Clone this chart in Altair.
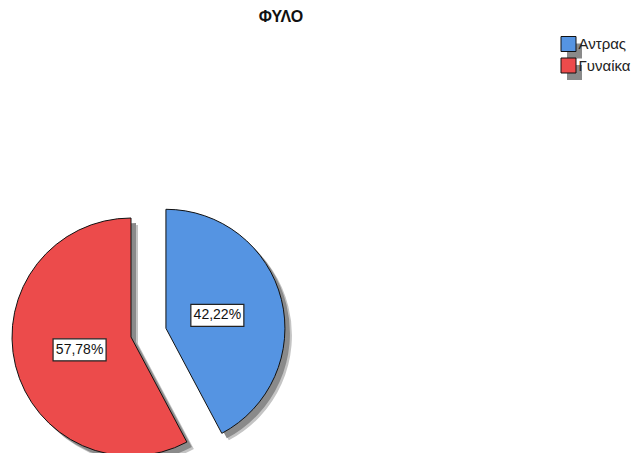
import altair as alt
import pandas as pd

# ---- data ----
title_text = "ΦΥΛΟ"
genders = ["Αντρας", "Γυναίκα"]
percents = [42.22, 57.78]
pct_labels = ["42,22%", "57,78%"]
explode = [1, 0]
order = [0, 1]
colors = ["#5594e2", "#ec4b4b"]

# ---- layout (chart coordinates; page margin 8px) ----
W, H = 625, 445
CX, CY = 123, 329
R = 119
EXP = 36
LR = 53
FONT = "Liberation Sans"

df = pd.DataFrame({
    "gender": genders, "pct": percents, "label": pct_labels,
    "explode": explode, "order": order,
})

color = alt.Color("gender:N", scale=alt.Scale(domain=genders, range=colors), legend=None)

base = (
    alt.Chart(df)
    .transform_window(cum="sum(pct)", sort=[alt.SortField("order")], frame=[None, 0])
    .transform_joinaggregate(total="sum(pct)")
    .transform_calculate(t0="2*PI*(datum.cum - datum.pct)/datum.total")
    .transform_calculate(t1="2*PI*datum.cum/datum.total")
    .transform_calculate(tm="2*PI*(datum.cum - datum.pct/2)/datum.total")
    .transform_calculate(cx=f"{CX} + datum.explode*{EXP}*sin(datum.tm)")
    .transform_calculate(cy=f"{CY} - datum.explode*{EXP}*cos(datum.tm)")
    .transform_calculate(lx=f"datum.cx + {LR}*sin(datum.tm)")
    .transform_calculate(ly=f"datum.cy - {LR}*cos(datum.tm)")
    .transform_calculate(legy="36 + datum.order*21.5")
)

theta = alt.Theta("t0:Q", scale=None)

shadow2 = base.transform_calculate(sxx="datum.cx + 7", syy="datum.cy + 7").mark_arc(
    outerRadius=R, color="#c4c4c4"
).encode(theta=theta, theta2="t1:Q",
         x=alt.X("sxx:Q", scale=None, axis=None), y=alt.Y("syy:Q", scale=None, axis=None))

shadow = base.transform_calculate(sxx="datum.cx + 5", syy="datum.cy + 5").mark_arc(
    outerRadius=R, color="#8a8a8a"
).encode(theta=theta, theta2="t1:Q",
         x=alt.X("sxx:Q", scale=None, axis=None), y=alt.Y("syy:Q", scale=None, axis=None))

arcs = base.mark_arc(outerRadius=R, stroke="#111111", strokeWidth=1).encode(
    theta=theta, theta2="t1:Q",
    x=alt.X("cx:Q", scale=None, axis=None), y=alt.Y("cy:Q", scale=None, axis=None),
    color=color,
)

BW, BH = 53, 22
box_path = f"M-1,-{BH/BW:.4f}H1V{BH/BW:.4f}H-1Z"
boxes = base.mark_point(
    shape=box_path, size=BW * BW, filled=True, fill="white", stroke="#222222",
    strokeWidth=1.2, opacity=1,
).encode(x=alt.X("lx:Q", scale=None, axis=None), y=alt.Y("ly:Q", scale=None, axis=None))

texts = base.mark_text(font=FONT, fontSize=14, color="#111111").encode(
    x=alt.X("lx:Q", scale=None, axis=None), y=alt.Y("ly:Q", scale=None, axis=None),
    text="label:N",
)

# legend
LX = 560.5
leg_shadow = base.transform_calculate(lsy="datum.legy + 7").mark_point(
    shape="square", size=225, filled=True, color="#8a8a8a", opacity=1
).encode(x=alt.value(LX + 6), y=alt.Y("lsy:Q", scale=None, axis=None))

leg_sq = base.mark_point(
    shape="square", size=225, filled=True, stroke="#111111", strokeWidth=1, opacity=1
).encode(x=alt.value(LX), y=alt.Y("legy:Q", scale=None, axis=None), fill=color)

leg_txt = base.mark_text(font=FONT, fontSize=15, align="left", baseline="middle",
                         color="#222222").encode(
    x=alt.value(LX + 10), y=alt.Y("legy:Q", scale=None, axis=None), text="gender:N")

title = alt.Chart(pd.DataFrame({"t": [title_text]})).mark_text(
    font=FONT, fontSize=16, fontWeight="bold", color="#111111", baseline="middle"
).encode(text="t:N", x=alt.value(273), y=alt.value(9))

chart = alt.layer(
    shadow2, shadow, arcs, boxes, texts, leg_shadow, leg_sq, leg_txt, title
).properties(
    width=W, height=H, autosize=alt.AutoSizeParams(type="none"), padding=0,
    background="white",
).configure_view(stroke=None)

chart.save("out.html", embed_options={"renderer": "svg", "actions": False})
